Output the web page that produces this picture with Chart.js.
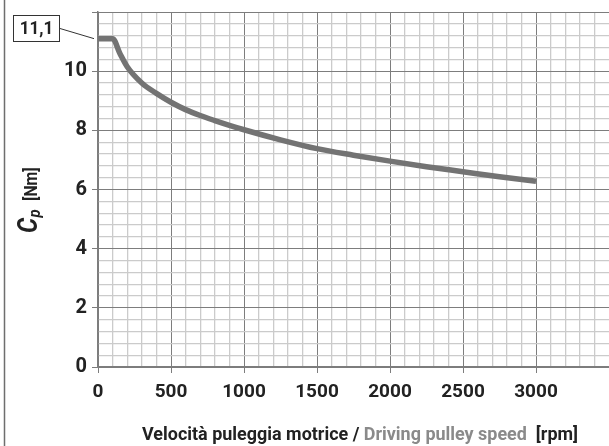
<!DOCTYPE html>
<html>
<head>
<meta charset="utf-8">
<script src="https://cdn.jsdelivr.net/npm/chart.js@4"></script>
<style>
  html, body { margin: 0; padding: 0; background: #ffffff; overflow: hidden; }
  #wrap { width: 609px; height: 446px; position: relative; }
</style>
</head>
<body>
<div id="wrap"><canvas id="c" width="609" height="446"></canvas></div>
<script>
// ---- data ----
const speedRpm = [0, 100, 150, 200, 300, 400, 500, 600, 700, 800, 900, 1000, 1250, 1500, 1750, 2000, 2250, 2500, 2750, 3000];
const torqueNm = [11.1, 11.1, 10.6, 10.15, 9.6, 9.25, 8.95, 8.7, 8.5, 8.33, 8.17, 8.02, 7.68, 7.38, 7.16, 6.96, 6.77, 6.6, 6.43, 6.28];
const xTickLabels = ['0', '500', '1000', '1500', '2000', '2500', '3000'];
const yTickLabels = ['0', '2', '4', '6', '8', '10'];
const peakLabel = '11,1';
const xTitleParts = ['Velocità puleggia motrice / ', 'Driving pulley speed', '  [rpm]'];
const yTitleParts = ['C', 'p', '[Nm]'];

const FONT = 'Roboto, "Liberation Sans", sans-serif';
const MINOR = '#cbcbcb';
const MAJOR = '#7d7d7d';

const points = speedRpm.map((x, i) => ({ x: x, y: torqueNm[i] }));

function isMultiple(v, step) {
  const r = v / step;
  return Math.abs(r - Math.round(r)) < 1e-6;
}

const decorPlugin = {
  id: 'decor',
  afterDraw(chart) {
    const ctx = chart.ctx;
    ctx.save();
    // left frame line
    ctx.strokeStyle = '#6e6e6e';
    ctx.lineWidth = 1.5;
    ctx.beginPath();
    ctx.moveTo(4.5, 0);
    ctx.lineTo(4.5, 446);
    ctx.stroke();

    // peak annotation box
    const ys = chart.scales.y, xs = chart.scales.x;
    const py = ys.getPixelForValue(torqueNm[0]);
    const px = xs.getPixelForValue(speedRpm[0]);
    ctx.strokeStyle = '#333';
    ctx.lineWidth = 1;
    ctx.strokeRect(13.5, 15.5, 46, 26);
    ctx.beginPath();
    ctx.moveTo(60, 28.5);
    ctx.lineTo(px - 4, py);
    ctx.stroke();
    ctx.fillStyle = '#222';
    ctx.font = 'bold 19px ' + FONT;
    ctx.textAlign = 'center';
    ctx.textBaseline = 'middle';
    ctx.save();
    ctx.translate(36.5, 29);
    ctx.scale(0.9, 1);
    ctx.fillText(peakLabel, 0, 0);
    ctx.restore();

    // x axis title (two colours), condensed to the reference width
    ctx.font = 'bold 19px ' + FONT;
    ctx.textBaseline = 'alphabetic';
    ctx.textAlign = 'left';
    const colors = ['#222', '#8a8a8a', '#222'];
    const widths = xTitleParts.map(t => ctx.measureText(t).width);
    const total = widths.reduce((a, b) => a + b, 0);
    const targetW = 436;
    const sx = targetW / total;
    ctx.save();
    ctx.translate(360 - targetW / 2, 440);
    ctx.scale(sx, 1);
    let x = 0;
    xTitleParts.forEach((t, i) => {
      ctx.fillStyle = colors[i];
      ctx.fillText(t, x, 0);
      x += widths[i];
    });
    ctx.restore();

    // y axis title (rotated)
    ctx.translate(37, 233);
    ctx.rotate(-Math.PI / 2);
    ctx.scale(0.88, 1);
    ctx.fillStyle = '#222';
    ctx.font = 'italic bold 27px ' + FONT;
    ctx.fillText(yTitleParts[0], 0, 0);
    let w = ctx.measureText(yTitleParts[0]).width;
    ctx.font = 'italic bold 17px ' + FONT;
    ctx.fillText(yTitleParts[1], w + 0.5, 3);
    w += ctx.measureText(yTitleParts[1]).width + 10;
    ctx.font = 'bold 18px ' + FONT;
    ctx.fillText(yTitleParts[2], w, 0);
    ctx.restore();
  }
};

new Chart(document.getElementById('c'), {
  type: 'line',
  data: {
    datasets: [{
      data: points,
      borderColor: '#737373',
      borderWidth: 5.5,
      pointRadius: 0,
      fill: false,
      cubicInterpolationMode: 'monotone',
      borderCapStyle: 'butt',
      borderJoinStyle: 'round'
    }]
  },
  options: {
    responsive: false,
    animation: false,
    devicePixelRatio: 1,
    layout: { padding: { left: 0, right: 0, top: 12, bottom: 0 } },
    plugins: { legend: { display: false }, tooltip: { enabled: false }, title: { display: false } },
    scales: {
      x: {
        type: 'linear',
        min: 0,
        max: 3500,
        afterFit(scale) { scale.height = 79; scale.paddingLeft = 0; scale.paddingRight = 0; },
        ticks: {
          stepSize: 100,
          autoSkip: false,
          maxRotation: 0,
          padding: 8,
          color: '#222',
          font: { family: FONT, size: 19, weight: 'bold' },
          callback(v) {
            const s = String(Math.round(v));
            return isMultiple(v, 500) && xTickLabels.includes(s) ? s : '';
          }
        },
        grid: {
          color: (c) => isMultiple(c.tick.value, 500) ? MAJOR : MINOR,
          lineWidth: (c) => isMultiple(c.tick.value, 500) ? 1 : 1.3,
          tickColor: (c) => isMultiple(c.tick.value, 500) ? MAJOR : 'rgba(0,0,0,0)',
          tickLength: 6,
          drawTicks: true
        },
        border: { display: true, color: MAJOR, width: 1.5 }
      },
      y: {
        type: 'linear',
        min: 0,
        max: 12,
        afterFit(scale) { scale.width = 98; scale.paddingTop = 0; scale.paddingBottom = 0; },
        ticks: {
          stepSize: 0.4,
          autoSkip: false,
          padding: 5,
          color: '#222',
          font: { family: FONT, size: 20, weight: 'bold' },
          callback(v) {
            const s = String(Math.round(v));
            return isMultiple(v, 2) && yTickLabels.includes(s) ? s : '';
          }
        },
        grid: {
          color: (c) => isMultiple(c.tick.value, 2) ? MAJOR : MINOR,
          lineWidth: (c) => isMultiple(c.tick.value, 2) ? 1 : 1.3,
          tickColor: (c) => isMultiple(c.tick.value, 2) ? MAJOR : 'rgba(0,0,0,0)',
          tickLength: 6,
          drawTicks: true
        },
        border: { display: true, color: MAJOR, width: 1.5 }
      }
    }
  },
  plugins: [decorPlugin]
});
</script>
</body>
</html>
